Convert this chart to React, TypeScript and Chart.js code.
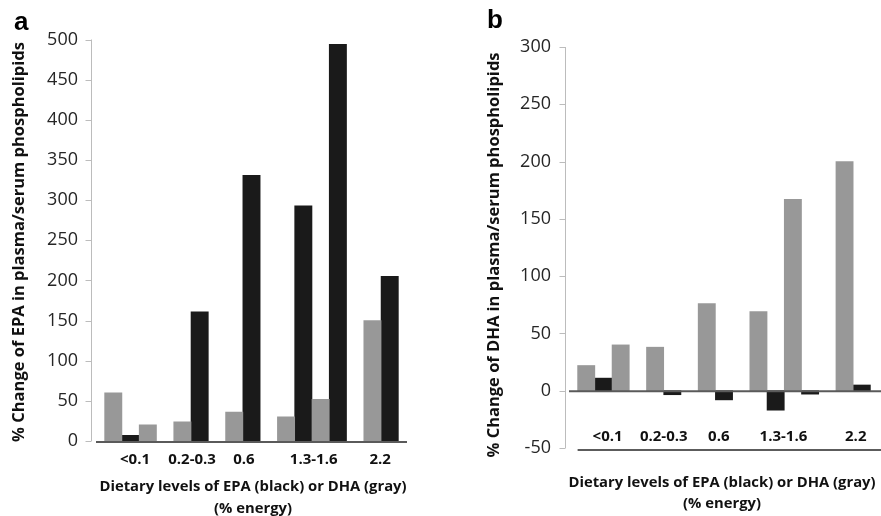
import React, { useEffect, useRef } from "react";
import { Chart, registerables } from "chart.js";

Chart.register(...registerables);

// ---- data -------------------------------------------------------------
// 17 bar slots per panel (gray = DHA intake group, black = EPA intake group)
const groupLabels = ["<0.1", "0.2-0.3", "0.6", "1.3-1.6", "2.2"];

// Panel a: % change of EPA in plasma/serum phospholipids
const epaGray = [60, null, 20, null, 24, null, null, 36, null, null, 30, null, 52, null, null, 150, null];
const epaBlack = [null, 7, null, null, null, 161, null, null, 331, null, null, 293, null, 494, null, null, 205];
const epaTicks = { min: 0, max: 500, step: 50 };

// Panel b: % change of DHA in plasma/serum phospholipids
const dhaGray = [22, null, 40, null, 38, null, null, 76, null, null, 69, null, 167, null, null, 200, null];
const dhaBlack = [null, 11, null, null, null, -3.5, null, null, -8, null, null, -17, null, -3, null, null, 5];
const dhaTicks = { min: -50, max: 300, step: 50 };

const xTitle = ["Dietary levels of EPA (black) or DHA (gray)", "(% energy)"];
const yTitleA = "% Change of EPA in plasma/serum phospholipids";
const yTitleB = "% Change of DHA in plasma/serum phospholipids";

// ---- styling / layout ---------------------------------------------------
const GRAY = "#989898";
const BLACK = "#1a1a1a";
const FONT = '"Open Sans", "Liberation Sans", sans-serif';

type PanelCfg = {
  letter: string;
  gray: (number | null)[];
  black: (number | null)[];
  ticks: { min: number; max: number; step: number };
  yTitle: string;
  canvasLeft: number;
  canvasWidth: number;
  padding: { left: number; top: number; right: number; bottom: number };
  yWidth: number;
  axisGap: number;
  labelSlots: number[];
  labelY: number;
  letterPos: [number, number];
  yTitlePos: [number, number];
  xTitlePos: [number, number, number];
  zeroShift: number;
  zeroToEdge: boolean;
  baseline: boolean;
};

const panels: PanelCfg[] = [
  {
    letter: "a",
    gray: epaGray,
    black: epaBlack,
    ticks: epaTicks,
    yTitle: yTitleA,
    canvasLeft: 0,
    canvasWidth: 440,
    padding: { left: 0, top: 39.5, right: 33, bottom: 75 },
    yWidth: 96,
    axisGap: 5,
    labelSlots: [1.26, 4.56, 7.56, 11.6, 15.45],
    labelY: 460,
    letterPos: [14, 30],
    yTitlePos: [19, 242],
    xTitlePos: [253, 487, 509],
    zeroShift: 1,
    zeroToEdge: false,
    baseline: false,
  },
  {
    letter: "b",
    gray: dhaGray,
    black: dhaBlack,
    ticks: dhaTicks,
    yTitle: yTitleB,
    canvasLeft: 440,
    canvasWidth: 441,
    padding: { left: 0, top: 47, right: 2, bottom: 68 },
    yWidth: 129,
    axisGap: 4,
    labelSlots: [1.24, 4.5, 7.7, 11.45, 15.65],
    labelY: 437,
    letterPos: [47, 28],
    yTitlePos: [54, 255],
    xTitlePos: [282, 483, 504],
    zeroShift: 0.5,
    zeroToEdge: true,
    baseline: true,
  },
];

function Panel({ cfg }: { cfg: PanelCfg }) {
  const ref = useRef<HTMLCanvasElement | null>(null);

  useEffect(() => {
    const canvas = ref.current;
    if (!canvas) return;
    const slots = ["", ...cfg.gray.map(() => ""), ""];
    const pad = (arr: (number | null)[]) => [null, ...arr, null];

    const decor = {
      id: "decor",
      afterDatasetsDraw(chart: any) {
        const ctx = chart.ctx as CanvasRenderingContext2D;
        const { left, right, top, bottom } = chart.chartArea;
        const xs = chart.scales.x;
        const ys = chart.scales.y;
        ctx.save();

        // y axis line + outward tick marks
        const ax = Math.round(left - cfg.axisGap) + 0.5;
        ctx.strokeStyle = "#bcbcbc";
        ctx.lineWidth = 1;
        ctx.beginPath();
        ctx.moveTo(ax, top);
        ctx.lineTo(ax, bottom);
        ys.ticks.forEach((t: any) => {
          const py = Math.round(ys.getPixelForValue(t.value)) + 0.5;
          ctx.moveTo(ax - 6, py);
          ctx.lineTo(ax, py);
        });
        ctx.stroke();

        // zero line
        const y0 = ys.getPixelForValue(0) + cfg.zeroShift;
        ctx.strokeStyle = "#5a5a5a";
        ctx.lineWidth = 2;
        ctx.beginPath();
        ctx.moveTo(left, y0);
        ctx.lineTo(cfg.zeroToEdge ? chart.width : right, y0);
        ctx.stroke();

        // line under the group labels (panel b)
        if (cfg.baseline) {
          const yb = ys.getPixelForValue(cfg.ticks.min) + 2;
          ctx.strokeStyle = "#262626";
          ctx.lineWidth = 1.6;
          ctx.beginPath();
          ctx.moveTo(xs.getPixelForValue(0.5), yb);
          ctx.lineTo(chart.width, yb);
          ctx.stroke();
        }

        // group labels
        ctx.fillStyle = "#111";
        ctx.textAlign = "center";
        ctx.textBaseline = "middle";
        ctx.font = `bold 15px ${FONT}`;
        groupLabels.forEach((lab, i) => {
          ctx.fillText(lab, xs.getPixelForValue(cfg.labelSlots[i] + 1), cfg.labelY);
        });

        // x title (two lines)
        ctx.font = `bold 14.8px ${FONT}`;
        ctx.fillText(xTitle[0], cfg.xTitlePos[0], cfg.xTitlePos[1]);
        ctx.fillText(xTitle[1], cfg.xTitlePos[0], cfg.xTitlePos[2]);

        // y title (rotated)
        ctx.save();
        ctx.translate(cfg.yTitlePos[0], cfg.yTitlePos[1]);
        ctx.rotate(-Math.PI / 2);
        ctx.font = `bold 16.5px ${FONT}`;
        ctx.fillText(cfg.yTitle, 0, 0);
        ctx.restore();

        // panel letter
        ctx.textAlign = "left";
        ctx.textBaseline = "alphabetic";
        ctx.font = 'bold 26px "Liberation Sans", Arial, sans-serif';
        ctx.fillStyle = "#000";
        ctx.fillText(cfg.letter, cfg.letterPos[0], cfg.letterPos[1]);

        ctx.restore();
      },
    };

    const chart = new Chart(canvas, {
      type: "bar",
      data: {
        labels: slots,
        datasets: [
          { data: pad(cfg.gray), backgroundColor: GRAY },
          { data: pad(cfg.black), backgroundColor: BLACK },
        ],
      },
      options: {
        responsive: false,
        maintainAspectRatio: false,
        animation: false,
        layout: { padding: cfg.padding },
        datasets: {
          bar: { grouped: false, barPercentage: 1, categoryPercentage: 1, borderWidth: 0 },
        },
        plugins: { legend: { display: false }, tooltip: { enabled: false }, title: { display: false } },
        scales: {
          x: { type: "category", display: false, offset: false, grid: { display: false } },
          y: {
            min: cfg.ticks.min,
            max: cfg.ticks.max,
            grid: { display: false, drawTicks: false },
            border: { display: false },
            ticks: {
              stepSize: cfg.ticks.step,
              padding: 18,
              color: "#262626",
              font: { family: FONT, size: 18 },
            },
            afterFit: (s: any) => {
              s.width = cfg.yWidth;
            },
          },
        },
      } as any,
      plugins: [decor],
    });
    return () => chart.destroy();
  }, [cfg]);

  return (
    <canvas
      ref={ref}
      width={cfg.canvasWidth}
      height={516}
      style={{ position: "absolute", left: cfg.canvasLeft, top: 0, width: cfg.canvasWidth, height: 516 }}
    />
  );
}

export default function App() {
  return (
    <div style={{ position: "absolute", left: 0, top: 0, width: 881, height: 516, background: "#fff" }}>
      {panels.map((p) => (
        <Panel key={p.letter} cfg={p} />
      ))}
    </div>
  );
}
